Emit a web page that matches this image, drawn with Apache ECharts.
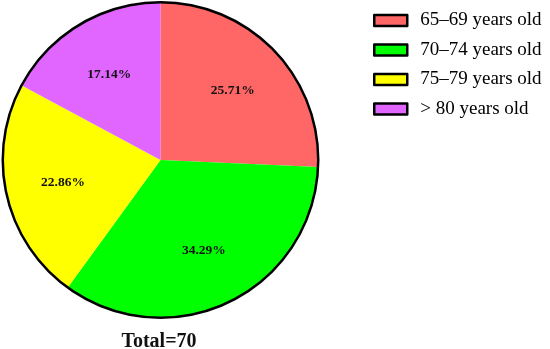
<!DOCTYPE html>
<html>
<head>
<meta charset="utf-8">
<script src="https://cdn.jsdelivr.net/npm/echarts@6/dist/echarts.min.js"></script>
<style>html,body{margin:0;padding:0;background:#fff;}#c{width:550px;height:349px;}</style>
</head>
<body>
<div id="c"></div>
<script>
const categories = ['65–69 years old', '70–74 years old', '75–79 years old', '> 80 years old'];
const counts = [18, 24, 16, 12];
const colors = ['#FF6666', '#00FF00', '#FFFF00', '#E066FF'];
const totalLabel = 'Total=70';

const total = counts.reduce((a, b) => a + b, 0);
const serif = '"Liberation Serif", "DejaVu Serif", serif';
const CX = 160.5, CY = 160, R = 158;

const chart = echarts.init(document.getElementById('c'), null, {renderer: 'canvas'});
chart.setOption({
  animation: false,
  color: colors,
  legend: {
    orient: 'vertical',
    left: 368,
    top: 6,
    itemWidth: 33,
    itemHeight: 11,
    itemGap: 10.5,
    icon: 'rect',
    data: categories.map(n => ({name: n, itemStyle: {borderColor: '#000', borderWidth: 2.5}})),
    itemStyle: {borderColor: '#000', borderWidth: 2.5},
    textStyle: {fontFamily: serif, fontSize: 19, color: '#000', padding: [0, 0, 0, 8]}
  },
  title: {
    text: totalLabel,
    left: 154, top: 327, textAlign: 'center',
    textStyle: {fontFamily: serif, fontSize: 20, fontWeight: 'bold', color: '#111'}
  },
  series: [
    {
      type: 'pie', center: [CX, CY], radius: [0, R], startAngle: 90, clockwise: true,
      silent: true,
      data: categories.map((n, i) => ({name: n, value: counts[i], itemStyle: {color: colors[i]}})),
      label: {show: false}, labelLine: {show: false}
    },
    {
      type: 'pie', center: [CX, CY], radius: [0, 194], startAngle: 90, clockwise: true,
      silent: true,
      data: categories.map((n, i) => ({name: n, value: counts[i], itemStyle: {color: 'rgba(0,0,0,0)', borderWidth: 0}})),
      label: {
        show: true, position: 'inside',
        formatter: p => (p.value / total * 100).toFixed(2) + '%',
        fontFamily: serif, fontSize: 13.5, fontWeight: 'bold', color: '#111'
      },
      labelLine: {show: false}
    },
    {
      type: 'pie', center: [CX, CY], radius: [R - 1.5, R + 1], startAngle: 90,
      silent: true,
      data: [{name: 'outline', value: 1, itemStyle: {color: '#000', borderWidth: 0}}],
      label: {show: false}, labelLine: {show: false}
    }
  ]
});
</script>
</body>
</html>
